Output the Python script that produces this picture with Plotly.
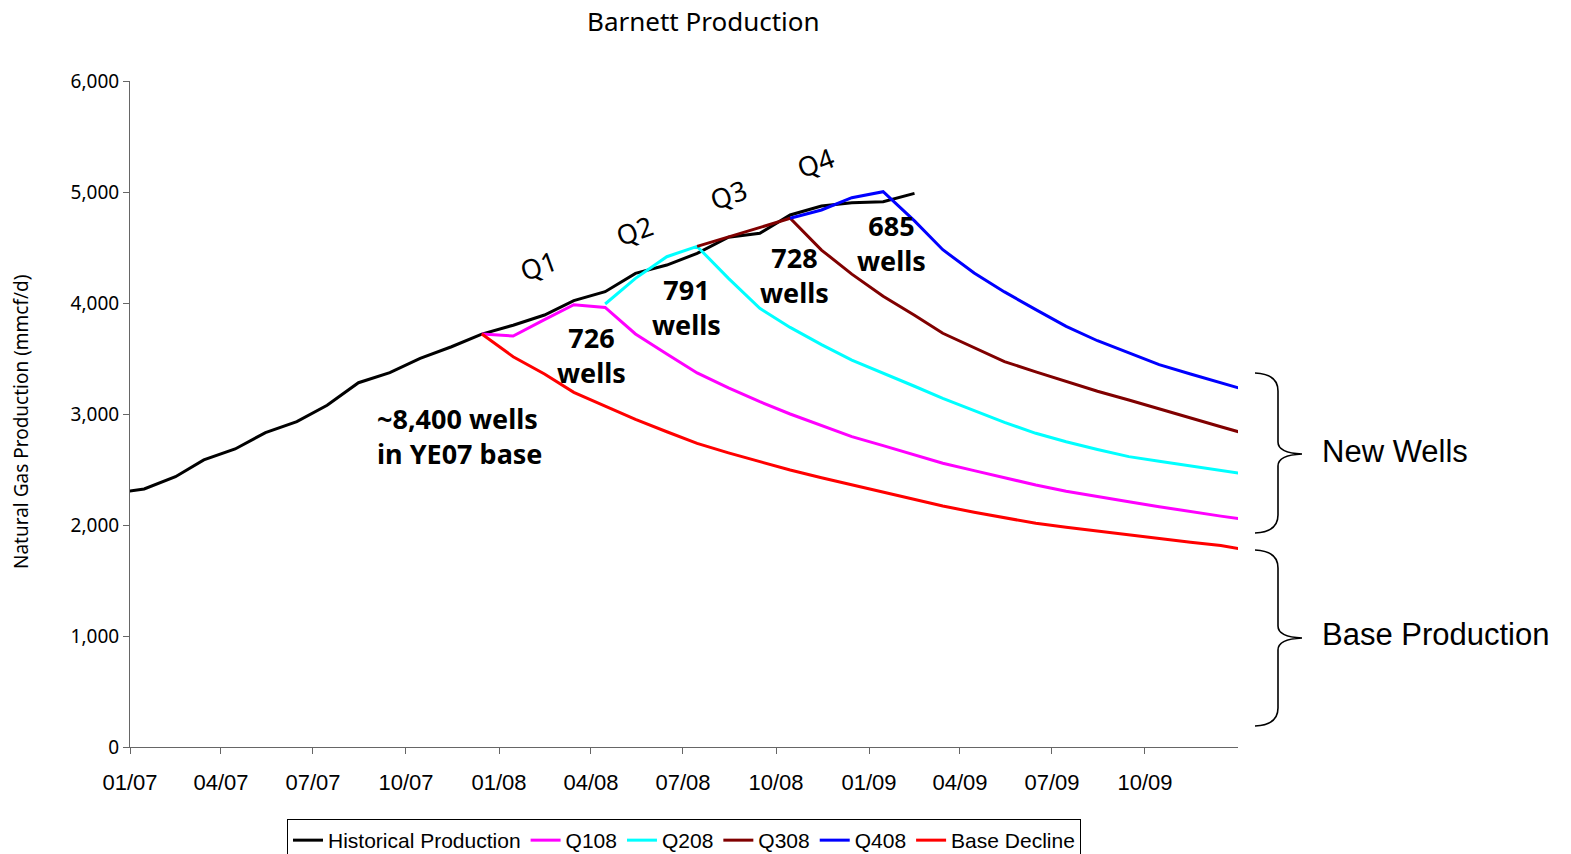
import plotly.graph_objects as go

# ---------------- data (mmcf/d, monthly mid-month readings) ----------------
hist_start = "2006-12"
hist_vals = [2285, 2325, 2435, 2586, 2685, 2832, 2931, 3078, 3282, 3372, 3502, 3606,
             3720, 3800, 3892, 4021, 4102, 4267, 4342, 4447, 4592, 4628, 4793, 4874,
             4904, 4913, 4988]

q108_start = "2007-12"
q108_vals = [3720, 3703, 3850, 3985, 3960, 3721, 3540, 3370, 3235, 3111, 3000, 2895,
             2796, 2715, 2635, 2556, 2490, 2425, 2360, 2305, 2255, 2210, 2165, 2120,
             2080, 2040]

q208_start = "2008-04"
q208_vals = [3991, 4222, 4417, 4510, 4222, 3952, 3780, 3625, 3486, 3370, 3250, 3141,
             3030, 2925, 2826, 2750, 2680, 2616, 2575, 2535, 2495, 2450]

q308_start = "2008-07"
q308_vals = [4510, 4595, 4685, 4763, 4477, 4260, 4060, 3890, 3727, 3600, 3472, 3380,
             3292, 3205, 3126, 3045, 2965, 2885, 2805]

q408_start = "2008-10"
q408_vals = [4763, 4838, 4949, 5003, 4740, 4480, 4270, 4100, 3940, 3790, 3660, 3550,
             3445, 3360, 3280, 3200]

base_start = "2007-12"
base_vals = [3720, 3516, 3360, 3195, 3070, 2952, 2840, 2735, 2650, 2570, 2495, 2425,
             2360, 2295, 2230, 2171, 2115, 2065, 2015, 1980, 1945, 1910, 1875, 1845,
             1815, 1765]

series_names = ["Historical Production", "Q108", "Q208", "Q308", "Q408", "Base Decline"]
series_colors = ["#000000", "#FF00FF", "#00FFFF", "#800000", "#0000FF", "#FF0000"]

tick_dates = ["2007-01-01", "2007-04-01", "2007-07-01", "2007-10-01",
              "2008-01-01", "2008-04-01", "2008-07-01", "2008-10-01",
              "2009-01-01", "2009-04-01", "2009-07-01", "2009-10-01"]
tick_labels = ["01/07", "04/07", "07/07", "10/07", "01/08", "04/08",
               "07/08", "10/08", "01/09", "04/09", "07/09", "10/09"]

well_labels = ["726<br>wells", "791<br>wells", "728<br>wells", "685<br>wells"]
quarter_labels = ["Q1", "Q2", "Q3", "Q4"]


def month_dates(start, n):
    """Mid-month date strings for n consecutive months beginning at 'YYYY-MM'."""
    y, m = map(int, start.split("-"))
    out = []
    for _ in range(n):
        out.append(f"{y:04d}-{m:02d}-15")
        m += 1
        if m > 12:
            m = 1
            y += 1
    return out


series = [
    (hist_start, hist_vals),
    (q108_start, q108_vals),
    (q208_start, q208_vals),
    (q308_start, q308_vals),
    (q408_start, q408_vals),
    (base_start, base_vals),
]

fig = go.Figure()
for (start, vals), name, color in zip(series, series_names, series_colors):
    fig.add_trace(go.Scatter(
        x=month_dates(start, len(vals)), y=vals, name=name, mode="lines",
        line=dict(color=color, width=3), hoverinfo="x+y+name",
    ))

# ---------------- geometry helpers (pixel -> paper) ----------------
W, H = 1571, 854
L, R, T, B = 130, 1238, 81, 747


def px(x):
    return (x - L) / (R - L)


def py(y):
    return (B - y) / (B - T)


TEXT_FONT = "Noto Sans, DejaVu Sans"
ARIAL = "Liberation Sans, Arial"

annotations = []

# chart title and y-axis title
annotations.append(dict(text="Barnett Production", x=px(703), y=py(21), xref="paper", yref="paper",
                        showarrow=False, font=dict(family=TEXT_FONT, size=26, color="#000"),
                        xanchor="center", yanchor="middle"))
annotations.append(dict(text="Natural Gas Production (mmcf/d)", x=px(21), y=py(422), xref="paper",
                        yref="paper", showarrow=False, textangle=-90,
                        font=dict(family=TEXT_FONT, size=19, color="#000"),
                        xanchor="center", yanchor="middle"))

# quarter tags
for txt, (cx, cy) in zip(quarter_labels, [(538, 265), (634, 230), (728, 194), (815, 162)]):
    annotations.append(dict(text=txt, x=px(cx), y=py(cy), xref="paper", yref="paper", showarrow=False,
                            textangle=-20, font=dict(family=TEXT_FONT, size=27, color="#000"),
                            xanchor="center", yanchor="middle"))

# well counts per quarter
for txt, (cx, cy) in zip(well_labels, [(591, 355), (686, 307), (794, 275), (891, 243)]):
    annotations.append(dict(text="<b>" + txt + "</b>", x=px(cx), y=py(cy), xref="paper", yref="paper",
                            showarrow=False, align="center",
                            font=dict(family=TEXT_FONT, size=27, color="#000"),
                            xanchor="center", yanchor="middle"))

annotations.append(dict(text="<b>~8,400 wells<br>in YE07 base</b>", x=px(459), y=py(436), xref="paper",
                        yref="paper", showarrow=False, align="left",
                        font=dict(family=TEXT_FONT, size=27, color="#000"),
                        xanchor="center", yanchor="middle"))

# brace captions
annotations.append(dict(text="New Wells", x=px(1320), y=py(452), xref="paper", yref="paper",
                        showarrow=False, xanchor="left", yanchor="middle",
                        font=dict(family=ARIAL, size=31, color="#000")))
annotations.append(dict(text="Base Production", x=px(1320), y=py(634), xref="paper", yref="paper",
                        showarrow=False, xanchor="left", yanchor="middle",
                        font=dict(family=ARIAL, size=31, color="#000")))


def brace_path(top, tip, bottom):
    pts = [
        ("M", [(1255, top)]),
        ("Q", [(1278, top + 1), (1278, top + 18)]),
        ("L", [(1278, tip - 12)]),
        ("Q", [(1278, tip - 1), (1302, tip)]),
        ("Q", [(1278, tip + 1), (1278, tip + 12)]),
        ("L", [(1278, bottom - 18)]),
        ("Q", [(1278, bottom - 1), (1255, bottom)]),
    ]
    s = ""
    for cmd, coords in pts:
        s += cmd + " " + " ".join(f"{px(x):.5f},{py(y):.5f}" for x, y in coords) + " "
    return s.strip()


shapes = [
    dict(type="path", path=brace_path(373, 454, 533), xref="paper", yref="paper",
         line=dict(color="#000", width=1.6)),
    dict(type="path", path=brace_path(550, 638, 726), xref="paper", yref="paper",
         line=dict(color="#000", width=1.6)),
]

fig.update_layout(
    width=W, height=H, autosize=False,
    margin=dict(l=L, r=W - R, t=T, b=H - B, pad=0, autoexpand=False),
    paper_bgcolor="white", plot_bgcolor="white",
    showlegend=True,
    legend=dict(orientation="h", x=0.5, xanchor="center",
                yref="container", y=1 - 819 / H, yanchor="top",
                bordercolor="#000", borderwidth=1, bgcolor="white",
                font=dict(family=ARIAL, size=21, color="#000"),
                itemwidth=30, tracegroupgap=0),
    annotations=annotations,
    shapes=shapes,
    xaxis=dict(
        type="date", range=["2007-01-01", "2010-01-01"],
        tickmode="array", tickvals=tick_dates, ticktext=tick_labels,
        showgrid=False, zeroline=False, showline=True, linecolor="#666", linewidth=1,
        ticks="outside", ticklen=6, tickcolor="#666", automargin=False,
        tickfont=dict(family=ARIAL, size=22, color="#000"),
        ticklabelstandoff=10,
    ),
    yaxis=dict(
        range=[0, 6000], dtick=1000, tickformat=",d",
        showgrid=False, zeroline=False, showline=True, linecolor="#666", linewidth=1,
        ticks="outside", ticklen=6, tickcolor="#666", automargin=False,
        tickfont=dict(family=TEXT_FONT, size=19, color="#000"),
    ),
)

fig.write_html("out.html")
